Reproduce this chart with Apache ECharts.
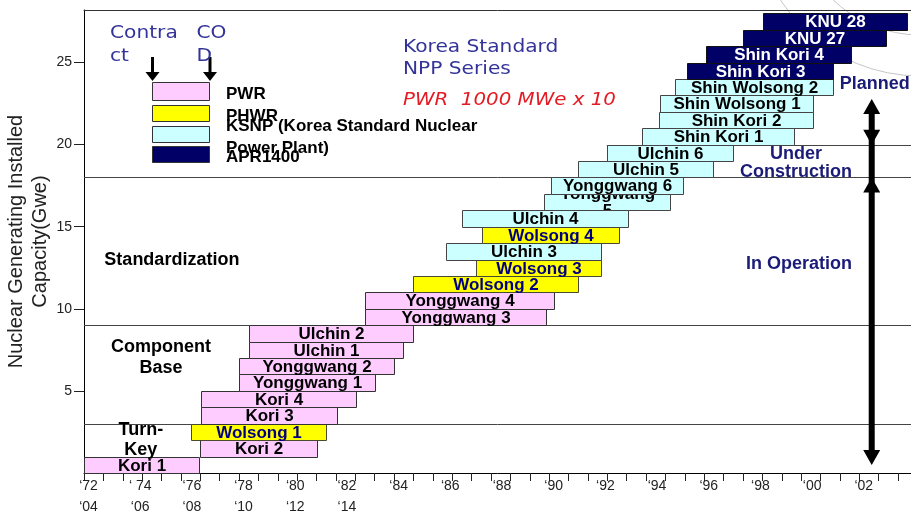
<!DOCTYPE html>
<html>
<head>
<meta charset="utf-8">
<script src="https://cdn.jsdelivr.net/npm/echarts@6/dist/echarts.min.js"></script>
<style>
  html, body { margin: 0; padding: 0; background: #fff; }
  #chart { width: 911px; height: 515px; }
</style>
</head>
<body>
<div id="chart"></div>
<script>
// Korean nuclear power plants: contract year -> commercial operation date,
// stacked by installed capacity (GWe).
const plantNames = [
  'Kori 1', 'Kori 2', 'Wolsong 1', 'Kori 3', 'Kori 4', 'Yonggwang 1', 'Yonggwang 2',
  'Ulchin 1', 'Ulchin 2', 'Yonggwang 3', 'Yonggwang 4', 'Wolsong 2', 'Wolsong 3',
  'Ulchin 3', 'Wolsong 4', 'Ulchin 4', 'Yonggwang 5', 'Yonggwang 6', 'Ulchin 5',
  'Ulchin 6', 'Shin Kori 1', 'Shin Kori 2', 'Shin Wolsong 1', 'Shin Wolsong 2',
  'Shin Kori 3', 'Shin Kori 4', 'KNU 27', 'KNU 28'
];
const plantTypes = [
  'PWR', 'PWR', 'PHWR', 'PWR', 'PWR', 'PWR', 'PWR',
  'PWR', 'PWR', 'PWR', 'PWR', 'PHWR', 'PHWR',
  'KSNP', 'PHWR', 'KSNP', 'KSNP', 'KSNP', 'KSNP',
  'KSNP', 'KSNP', 'KSNP', 'KSNP', 'KSNP',
  'APR1400', 'APR1400', 'APR1400', 'APR1400'
];
const contractYears = [
  1972.0, 1976.49, 1976.13, 1976.52, 1976.52, 1978.01, 1978.01,
  1978.38, 1978.38, 1982.87, 1982.87, 1984.74, 1987.16,
  1986.01, 1987.39, 1986.61, 1989.8, 1990.06, 1991.1,
  1992.23, 1993.58, 1994.26, 1994.29, 1994.87,
  1995.34, 1996.07, 1997.49, 1998.28
];
const codYears = [
  1976.45, 1981.0, 1981.35, 1981.78, 1982.51, 1983.26, 1984.0,
  1984.34, 1984.73, 1989.86, 1990.19, 1991.13, 1991.99,
  1991.99, 1992.71, 1993.04, 1994.67, 1995.19, 1996.35,
  1997.12, 1999.48, 2000.22, 2000.22, 2000.97,
  2000.99, 2001.67, 2003.02, 2003.83
];
const capacityFrom = [0, 1, 2, 3, 4, 5, 6, 7, 8, 9, 10, 11, 12, 13, 14, 15, 16, 17, 18, 19, 20, 21, 22, 23, 24, 25, 26, 27];
const capacityTo   = [1, 2, 3, 4, 5, 6, 7, 8, 9, 10, 11, 12, 13, 14, 15, 16, 17, 18, 19, 20, 21, 22, 23, 24, 25, 26, 27, 28];

// Axis ticks and labels
const yearTicks = [1972, 1974, 1976, 1978, 1980, 1982, 1984, 1986, 1988, 1990, 1992, 1994, 1996, 1998, 2000, 2002];
const yearLabels = ['‘72\n‘04', '‘ 74\n‘06', '‘76\n‘08', '‘78\n‘10', '‘80\n‘12', '‘82\n‘14', '‘84', '‘86',
                    '‘88', '‘90', '‘92', '‘94', '‘96', '‘98', '‘00', '‘02'];
const capacityTicks = [5, 10, 15, 20, 25];

// Phase boundaries (GWe) and the year each boundary line starts from
const phaseLevels = [3, 9, 18, 20];
const phaseStartYears = [1972, 1972, 1972, 1992.23];

// Phase captions
const phaseNames = ['Turn-\nKey', 'Component\nBase', 'Standardization', 'In Operation', 'Under\nConstruction', 'Planned'];

// Status arrows (capacity spans)
const statusSpans = [[22.78, 20], [18, 0.49]];
const statusYear = 2002.48;

const X_MIN = 1972, X_MAX = 2004, Y_MAX = 28.2;

const typeStyle = {
  PWR:     { fill: '#ffccff', stroke: '#333333', text: '#000000' },
  PHWR:    { fill: '#ffff00', stroke: '#4a4a30', text: '#000080' },
  KSNP:    { fill: '#ccffff', stroke: '#444444', text: '#000000' },
  APR1400: { fill: '#000066', stroke: '#111111', text: '#ffffff' }
};
const legendLabels = ['PWR', 'PHWR', 'KSNP (Korea Standard Nuclear\nPower Plant)', 'APR1400'];
const legendTypes = ['PWR', 'PHWR', 'KSNP', 'APR1400'];

const ARIAL = '"Liberation Sans", Arial, sans-serif';
const WIDE = '"DejaVu Sans", Verdana, sans-serif';
const NAVY = '#1b1b78';

// Minor ticks every nine months along the time axis
const minorTicks = [];
for (let k = 0; X_MIN + 0.75 * k <= X_MAX; k++) minorTicks.push(X_MIN + 0.75 * k);

const barData = plantNames.map((n, i) => [contractYears[i], codYears[i], capacityFrom[i], capacityTo[i], n, plantTypes[i]]);
const phaseData = phaseLevels.map((lv, i) => [phaseStartYears[i], lv]);

// caption placement (year, GWe) and colour
const phaseCaption = [
  { at: [1974.2, 2.0], color: '#000', lh: 20 },
  { at: [1974.98, 7.06], color: '#000', lh: 21 },
  { at: [1975.4, 12.97], color: '#000', lh: 21 },
  { at: [1999.67, 12.73], color: NAVY, lh: 21 },
  { at: [1999.55, 18.88], color: NAVY, lh: 18 },
  { at: [2002.6, 23.7], color: NAVY, lh: 21 }
];

// legend block
const legendGraphics = [];
const boxTops = [82, 105, 126, 146];
const boxHeights = [18, 16, 16, 16];
legendTypes.forEach((t, i) => {
  legendGraphics.push({
    type: 'rect', shape: { x: 152.5, y: boxTops[i] + 0.5, width: 57, height: boxHeights[i] },
    style: { fill: typeStyle[t].fill, stroke: '#333', lineWidth: 1 }
  });
  legendGraphics.push({
    type: 'text', x: 226, y: boxTops[i] + boxHeights[i] / 2 + 3,
    style: { text: legendLabels[i], font: 'bold 17px ' + ARIAL, fill: '#000',
             verticalAlign: 'middle', lineHeight: 22 }
  });
});
[152.5, 210].forEach(ax => {
  legendGraphics.push({ type: 'rect', shape: { x: ax - 1.5, y: 57, width: 3, height: 16 }, style: { fill: '#000' } });
  legendGraphics.push({ type: 'polygon', shape: { points: [[ax - 7, 72], [ax + 7, 72], [ax, 81]] }, style: { fill: '#000' } });
});
legendGraphics.push(
  { type: 'text', x: 110, y: 44.5, scaleX: 1.12,
    style: { text: 'Contra\nct', font: '18px ' + WIDE, fill: '#333399', verticalAlign: 'middle', lineHeight: 23 } },
  { type: 'text', x: 196.5, y: 44.5, scaleX: 1.12,
    style: { text: 'CO\nD', font: '18px ' + WIDE, fill: '#333399', verticalAlign: 'middle', lineHeight: 23 } },
  { type: 'text', x: 403, y: 58, scaleX: 1.12,
    style: { text: 'Korea Standard\nNPP Series', font: '18px ' + WIDE, fill: '#333399', verticalAlign: 'middle', lineHeight: 22 } },
  { type: 'text', x: 403, y: 100, scaleX: 1.1,
    style: { text: 'PWR  1000 MWe x 10', font: 'italic 18px ' + WIDE, fill: '#e31b23', verticalAlign: 'middle' } }
);

const chart = echarts.init(document.getElementById('chart'), null, { renderer: 'canvas' });
chart.setOption({
  backgroundColor: '#ffffff',
  animation: false,
  grid: { left: 84, right: 0, top: 10, bottom: 42, containLabel: false, outerBoundsMode: 'none' },
  xAxis: [
    {
      type: 'value', min: X_MIN, max: X_MAX, position: 'bottom',
      axisLine: { show: true, lineStyle: { color: '#000', width: 1 } },
      axisTick: { show: true, customValues: minorTicks, length: 8, lineStyle: { color: '#222' } },
      axisLabel: {
        show: true, customValues: yearTicks, margin: 3, padding: [0, 0, 0, 9],
        fontFamily: ARIAL, fontSize: 14, color: '#222', lineHeight: 21,
        formatter: v => yearLabels[yearTicks.indexOf(Math.round(v))] || ''
      },
      splitLine: { show: false }
    },
    {
      type: 'value', min: X_MIN, max: X_MAX, position: 'top',
      axisLine: { show: true, lineStyle: { color: '#333', width: 1 } },
      axisTick: { show: false }, axisLabel: { show: false }, splitLine: { show: false }
    }
  ],
  yAxis: {
    type: 'value', min: 0, max: Y_MAX,
    name: 'Nuclear Generating Installed\nCapacity(Gwe)',
    nameLocation: 'middle', nameGap: 32, nameMoveOverlap: false,
    nameTextStyle: { fontFamily: ARIAL, fontSize: 20, color: '#222', lineHeight: 24 },
    axisLine: { show: true, lineStyle: { color: '#000', width: 1 } },
    axisTick: { show: true, customValues: capacityTicks, length: 10, lineStyle: { color: '#222' } },
    axisLabel: { customValues: capacityTicks, margin: 12, fontFamily: ARIAL, fontSize: 14, color: '#222' },
    splitLine: { show: false }
  },
  graphic: [
    { type: 'group', z: 0, children: [
      { type: 'circle', shape: { cx: 920, cy: -90, r: 125 }, style: { fill: 'none', stroke: '#c6c6c6', lineWidth: 1 } },
      { type: 'circle', shape: { cx: 920, cy: -90, r: 166 }, style: { fill: 'none', stroke: '#c6c6c6', lineWidth: 1 } }
    ] },
    { type: 'group', z: 20, children: legendGraphics }
  ],
  series: [
    {
      name: 'phases', type: 'custom', z: 1, silent: true,
      data: phaseData,
      encode: { x: 0, y: 1 },
      renderItem: (params, api) => {
        const a = api.coord([api.value(0), api.value(1)]);
        const b = api.coord([X_MAX, api.value(1)]);
        const y = Math.round(a[1]) + 0.5;
        return { type: 'line', shape: { x1: a[0], y1: y, x2: b[0], y2: y },
                 style: { stroke: '#444', lineWidth: 1 } };
      }
    },
    {
      name: 'plants', type: 'custom', z: 3, silent: true,
      data: barData,
      encode: { x: [0, 1], y: [2, 3] },
      renderItem: (params, api) => {
        const row = barData[params.dataIndex];
        const p0 = api.coord([api.value(0), api.value(2)]);
        const p1 = api.coord([api.value(1), api.value(3)]);
        const st = typeStyle[row[5]];
        const wrapped = row[4] === 'Yonggwang 5';
        const x0 = Math.round(p0[0]) + 0.5, x1 = Math.round(p1[0]) + 0.5;
        const yb = Math.round(p0[1]) + 0.5, yt = Math.round(p1[1]) + 0.5;
        return {
          type: 'group',
          children: [
            { type: 'rect', z2: wrapped ? 5 : 10,
              shape: { x: x0, y: yt, width: x1 - x0, height: yb - yt },
              style: { fill: st.fill, stroke: st.stroke, lineWidth: 1 } },
            { type: 'text', z2: wrapped ? 6 : 11,
              x: (x0 + x1) / 2, y: (yt + yb) / 2 + 0.5,
              style: { text: wrapped ? row[4].replace(' ', '\n') : row[4],
                       font: 'bold 17px ' + ARIAL, fill: st.text,
                       align: 'center', verticalAlign: 'middle', lineHeight: 17 } }
          ]
        };
      }
    },
    {
      name: 'status', type: 'custom', z: 4, silent: true,
      data: statusSpans.map(s => [statusYear, s[0], s[1]]),
      encode: { x: 0, y: [1, 2] },
      renderItem: (params, api) => {
        const i = params.dataIndex;
        const top = api.coord([api.value(0), api.value(1)]);
        const bot = api.coord([api.value(0), api.value(2)]);
        const x = top[0], hw = 8.5, hh = 15;
        const children = [
          { type: 'polygon', shape: { points: [[x, top[1]], [x - hw, top[1] + hh], [x + hw, top[1] + hh]] }, style: { fill: '#000' } },
          { type: 'polygon', shape: { points: [[x, bot[1]], [x - hw, bot[1] - hh], [x + hw, bot[1] - hh]] }, style: { fill: '#000' } }
        ];
        if (i === 0) {
          // one continuous shaft through every span
          const last = statusSpans[statusSpans.length - 1];
          const end = api.coord([statusYear, last[1]]);
          children.push({ type: 'rect', shape: { x: x - 3, y: top[1] + hh - 1, width: 6, height: end[1] - top[1] - 2 * hh + 2 },
                          style: { fill: '#000' } });
        }
        return { type: 'group', children };
      }
    },
    {
      name: 'captions', type: 'custom', z: 5, silent: true,
      data: phaseCaption.map(c => c.at),
      encode: { x: 0, y: 1 },
      renderItem: (params, api) => {
        const c = phaseCaption[params.dataIndex];
        const p = api.coord([api.value(0), api.value(1)]);
        return { type: 'text', x: p[0], y: p[1],
                 style: { text: phaseNames[params.dataIndex], font: 'bold 18px ' + ARIAL,
                          fill: c.color, align: 'center', verticalAlign: 'middle', lineHeight: c.lh } };
      }
    }
  ]
});
</script>
</body>
</html>
